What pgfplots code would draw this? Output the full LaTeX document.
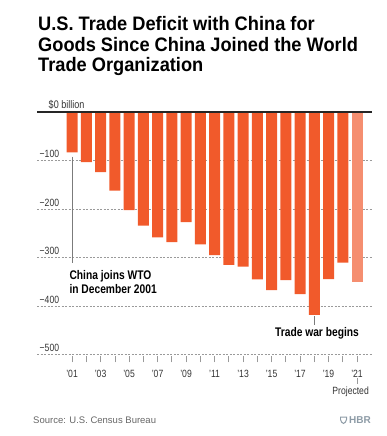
\documentclass[border=0pt]{standalone}
\usepackage{fontspec}
\setmainfont{Liberation Sans}
\newfontfamily\condfont[FakeStretch=0.82]{Liberation Sans}
\newfontfamily\titlefont[FakeStretch=0.935]{Liberation Sans}
\usepackage{pgfplots}
\pgfplotsset{compat=1.18}
\definecolor{barorange}{HTML}{F15A2B}
\definecolor{projorange}{HTML}{F58E70}
\definecolor{gridgray}{HTML}{9A9A9A}
\definecolor{textgray}{HTML}{333333}
\definecolor{hbrgray}{HTML}{8D9BA6}
\begin{document}
\begin{tikzpicture}[x=1pt,y=1pt]
\useasboundingbox (0,0) rectangle (386,-436);
% title
\node[anchor=base west,inner sep=0pt,font=\titlefont\fontsize{19.5}{20}\selectfont\bfseries] at (38,-31) {U.S. Trade Deficit with China for};
\node[anchor=base west,inner sep=0pt,font=\titlefont\fontsize{19.5}{20}\selectfont\bfseries] at (38,-51.5) {Goods Since China Joined the World};
\node[anchor=base west,inner sep=0pt,font=\titlefont\fontsize{19.5}{20}\selectfont\bfseries] at (38,-71) {Trade Organization};
\begin{axis}[
  at={(37pt,-359.4pt)}, anchor=south west,
  scale only axis, width=335pt, height=247.4pt,
  xmin=1998.54, xmax=2022.05, ymin=-510, ymax=0,
  clip=false,
  axis line style={draw=none},
  ybar, bar width=0.77,
  xtick={2001,2003,...,2021},
  xticklabels={’01,’03,’05,’07,’09,’11,’13,’15,’17,’19,’21},
  minor xtick={2002,2004,...,2020},
  xtick pos=bottom, xtick align=center,
  major tick length=6pt, minor tick length=6pt,
  every tick/.style={draw=gridgray, line width=0.6pt},
  xticklabel style={anchor=base, yshift=-15pt, font=\condfont\fontsize{10.5}{10}\selectfont, text=textgray},
  ytick={-500,-400,-300,-200,-100},
  yticklabels={−500,−400,−300,−200,−100},
  ytick style={draw=none},
  yticklabel style={anchor=south west, inner sep=0pt, xshift=2.5pt, yshift=2.5pt, font=\condfont\fontsize{10.5}{10}\selectfont, text=textgray},
  ymajorgrids,
  major grid style={gridgray, line width=0.6pt, dash pattern=on 2pt off 1.5pt},
]
\addplot[fill=barorange, draw=none, bar shift=0pt] coordinates {
(2001,-83.1) (2002,-103.1) (2003,-124.1) (2004,-162.3) (2005,-202.3)
(2006,-234.1) (2007,-258.5) (2008,-268.0) (2009,-226.9) (2010,-273.0)
(2011,-295.2) (2012,-315.1) (2013,-318.7) (2014,-344.8) (2015,-367.3)
(2016,-346.8) (2017,-375.6) (2018,-418.2) (2019,-344.3) (2020,-310.3)
};
\addplot[fill=projorange, draw=none, bar shift=0pt] coordinates {(2021,-350)};
\draw[black!85, line width=1.2pt] (rel axis cs:0,1) -- (rel axis cs:1,1);
\node[anchor=base west, inner sep=0pt, font=\condfont\fontsize{11}{10}\selectfont, text=textgray] at (axis cs:1999.35,0) [yshift=3.7pt] {\$0 billion};
% annotations
\draw[gridgray!80!black, line width=0.7pt] (axis cs:2001,-92) -- (axis cs:2001,-311);
\node[anchor=base west, inner sep=0pt, font=\condfont\bfseries\fontsize{12.5}{13}\selectfont] at (axis cs:2000.81,-346) {China joins WTO};
\node[anchor=base west, inner sep=0pt, font=\condfont\bfseries\fontsize{12.5}{13}\selectfont] at (axis cs:2000.81,-373.5) {in December 2001};
\draw[gridgray!80!black, line width=0.7pt] (axis cs:2018,-421) -- (axis cs:2018,-439);
\node[anchor=base, inner sep=0pt, font=\condfont\bfseries\fontsize{12.5}{13}\selectfont] at (axis cs:2018.19,-462) {Trade war begins};
\draw[gridgray, line width=0.6pt] (axis cs:2021,-549) -- (axis cs:2021,-561);
\node[anchor=base, inner sep=0pt, font=\condfont\fontsize{10.5}{10}\selectfont, text=textgray] at (axis cs:2020.55,-583) {Projected};
\end{axis}
% source
\node[anchor=base west,inner sep=0pt,font=\fontsize{9.5}{10}\selectfont,text=black!60] at (33,-423) {Source: U.S. Census Bureau};
\fill[hbrgray] (340,-416.5) -- (347,-416.5) -- (347,-419.5) .. controls (347,-422) and (345,-423.5) .. (343.5,-424) .. controls (342,-423.5) and (340,-422) .. (340,-419.5) -- cycle;
\fill[white] (341.2,-417.7) -- (345.8,-417.7) -- (345.8,-419.5) .. controls (345.8,-421) and (344.5,-422.3) .. (343.5,-422.7) .. controls (342.5,-422.3) and (341.2,-421) .. (341.2,-419.5) -- cycle;
\node[anchor=base west,inner sep=0pt,font=\fontsize{10}{10}\selectfont\bfseries,text=hbrgray] at (349,-423.8) {HBR};
\end{tikzpicture}
\end{document}
